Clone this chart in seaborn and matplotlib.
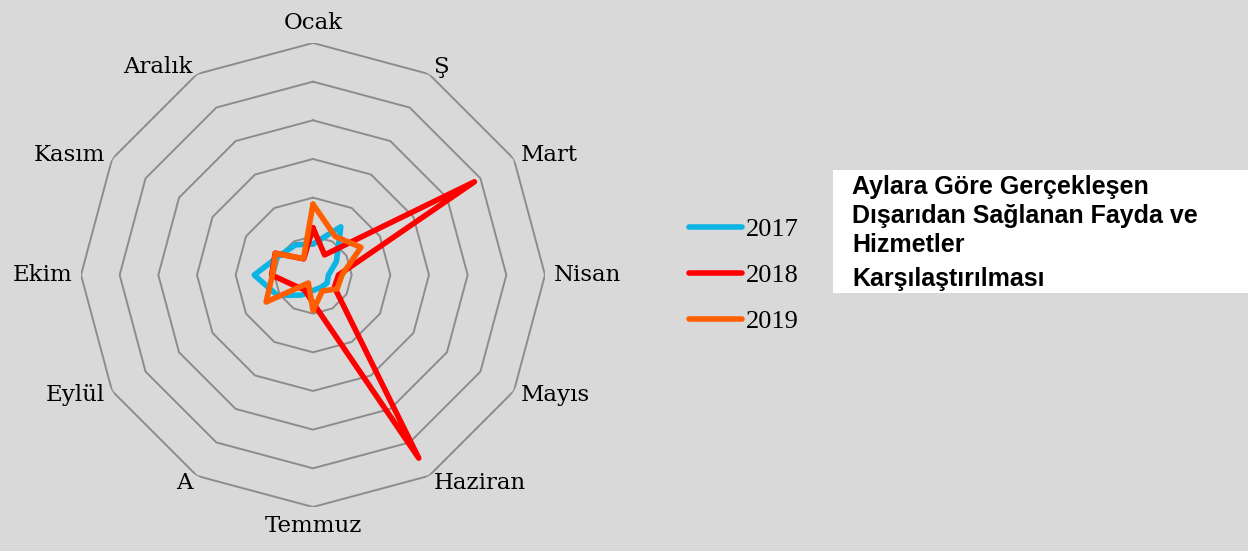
import numpy as np
import pandas as pd
import matplotlib
matplotlib.use("Agg")
import matplotlib.pyplot as plt
from matplotlib.lines import Line2D
from matplotlib.patches import Rectangle
import seaborn as sns

# --- donnees (unites = anneaux de la grille) ---
months = ["Ocak", "Ş", "Mart", "Nisan", "Mayıs", "Haziran",
          "Temmuz", "A", "Eylül", "Ekim", "Kasım", "Aralık"]
years = ["2017", "2018", "2019"]
v2017 = [0.80, 1.44, 0.70, 0.40, 0.42, 0.38, 0.40, 0.60, 1.06, 1.52, 1.00, 0.90]
v2018 = [1.22, 0.60, 4.82, 0.66, 0.64, 5.47, 0.72, 0.44, 0.55, 1.07, 1.13, 0.48]
v2019 = [1.83, 1.15, 1.43, 0.75, 0.72, 0.48, 0.92, 0.24, 1.40, 1.05, 1.12, 0.49]
rings = [1, 2, 3, 4, 5, 6]
title_lines = ["Aylara Göre Gerçekleşen", "Dışarıdan Sağlanan Fayda ve",
               "Hizmetler", "Karşılaştırılması"]

colors = {"2017": "#0cb4e4", "2018": "#ff0000", "2019": "#ff5f00"}
bg = "#d9d9d9"

sns.set_theme(style="white")
plt.rcParams["lines.solid_joinstyle"] = "round"
plt.rcParams["lines.solid_capstyle"] = "round"
plt.rcParams["text.color"] = "black"

n = len(months)
theta = np.arange(n) * 2 * np.pi / n
theta_closed = np.append(theta, 2 * np.pi)

rows = []
for year, vals in zip(years, [v2017, v2018, v2019]):
    for t, v in zip(theta_closed, vals + vals[:1]):
        rows.append({"theta": t, "value": v, "year": year})
df = pd.DataFrame(rows)

fig = plt.figure(figsize=(12.48, 5.51), dpi=100, facecolor=bg)
ax = fig.add_axes([0.0649, 0.0799, 0.3718, 0.8421], projection="polar")
ax.set_facecolor(bg)
ax.set_theta_offset(np.pi / 2)
ax.set_theta_direction(-1)

# anneaux polygonaux
for r in rings:
    ax.plot(theta_closed, [r] * (n + 1), color="#8c8c8c", lw=1.4, zorder=1)

sns.lineplot(data=df, x="theta", y="value", hue="year", palette=colors,
             sort=False, estimator=None, linewidth=4.0, legend=False, ax=ax, zorder=3)

ax.set_ylim(0, 6)
ax.grid(False)
ax.spines["polar"].set_visible(False)
ax.set_xticks([])
ax.set_yticks([])
ax.set_xlabel("")
ax.set_ylabel("")

# etiquettes des mois
for t, m in zip(theta, months):
    deg = np.degrees(t) % 360
    if deg == 0:
        ha, va = "center", "bottom"
    elif deg == 180:
        ha, va = "center", "top"
    elif deg < 180:
        ha, va = "left", "center"
    else:
        ha, va = "right", "center"
    ax.text(t, 6.22, m, ha=ha, va=va, fontsize=16.5, family="DejaVu Serif",
            color="black")

handles = [Line2D([], [], color=colors[y], lw=4.0) for y in years]
leg = fig.legend(handles, years, loc="center left", bbox_to_anchor=(0.544, 0.5),
                 frameon=False, handlelength=2.0, handletextpad=0.15,
                 borderaxespad=0, labelspacing=0.85,
                 prop={"family": "Liberation Serif", "size": 19})
for txt in leg.get_texts():
    txt.set_color("black")

# encadre du titre
fig.patches.append(Rectangle((833 / 1248, 1 - 293 / 551), 415 / 1248, 123 / 551,
                             transform=fig.transFigure, facecolor="white",
                             edgecolor="none", zorder=0))
ys = [187, 216, 245, 279]
for line, y in zip(title_lines, ys):
    fig.text(852 / 1248, 1 - y / 551, line, ha="left", va="center",
             fontsize=18, fontweight="bold", family="Liberation Sans", color="black")

fig.savefig("out.png", dpi=100, facecolor=bg)
